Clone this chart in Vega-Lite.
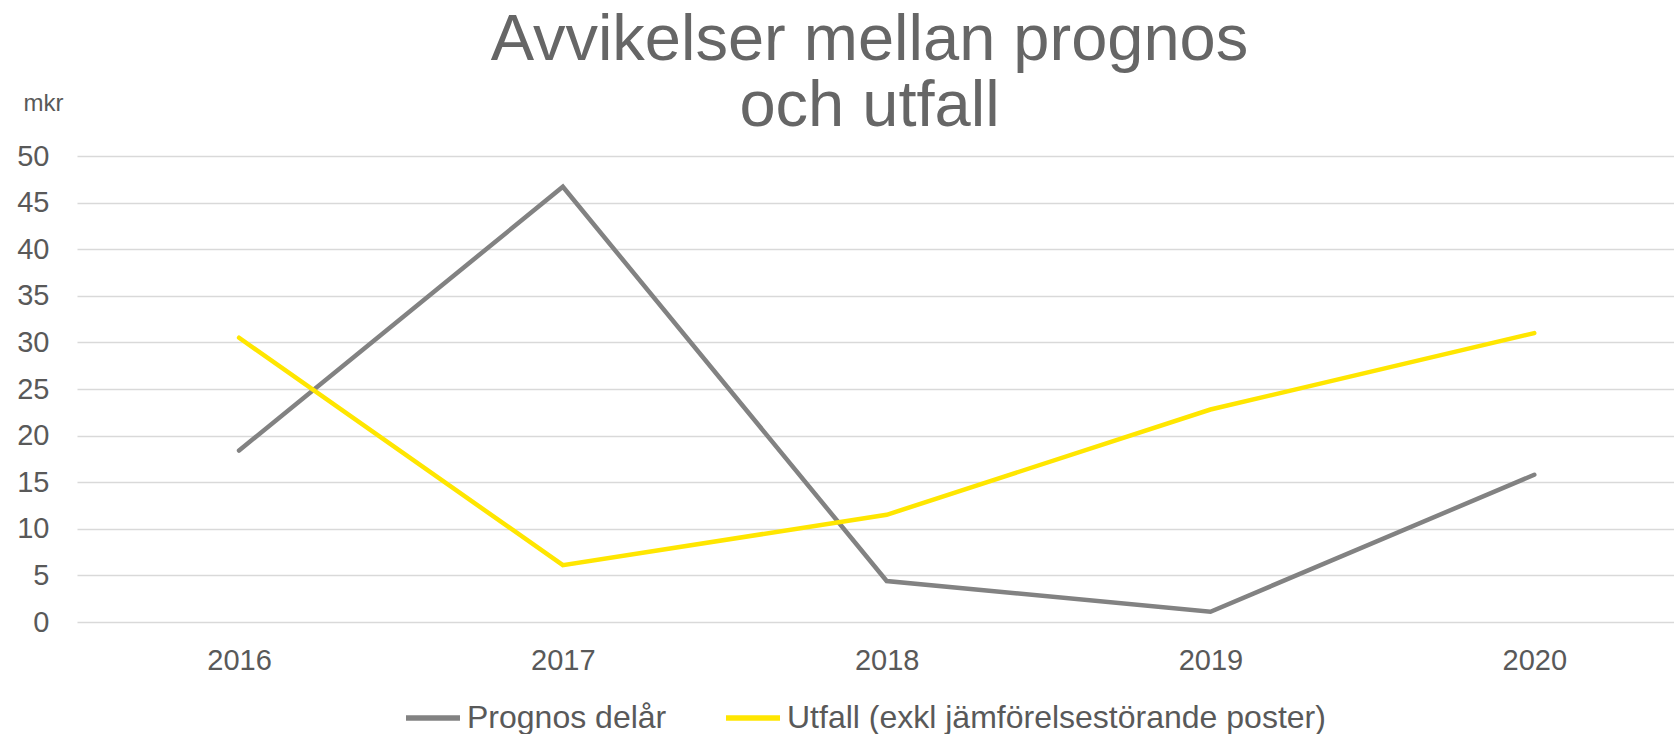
{
  "$schema": "https://vega.github.io/schema/vega-lite/v6.json",
  "width": 1597,
  "height": 466,
  "autosize": {"type": "none"},
  "padding": {"left": 77, "top": 156, "right": 0, "bottom": 112},
  "background": "white",
  "config": {
    "view": {"stroke": null},
    "font": "Liberation Sans"
  },
  "title": {
    "text": ["Avvikelser mellan prognos", "och utfall"],
    "font": "Liberation Sans",
    "fontSize": 65,
    "fontWeight": "normal",
    "color": "#666666",
    "lineHeight": 66,
    "anchor": "middle",
    "frame": "group",
    "offset": -49,
    "dx": -6
  },
  "data": {
    "values": [
      {"year": "2016", "series": "Prognos delår", "value": 18.4},
      {"year": "2017", "series": "Prognos delår", "value": 46.7},
      {"year": "2018", "series": "Prognos delår", "value": 4.4},
      {"year": "2019", "series": "Prognos delår", "value": 1.1},
      {"year": "2020", "series": "Prognos delår", "value": 15.8},
      {"year": "2016", "series": "Utfall (exkl jämförelsestörande poster)", "value": 30.5},
      {"year": "2017", "series": "Utfall (exkl jämförelsestörande poster)", "value": 6.1},
      {"year": "2018", "series": "Utfall (exkl jämförelsestörande poster)", "value": 11.5},
      {"year": "2019", "series": "Utfall (exkl jämförelsestörande poster)", "value": 22.8},
      {"year": "2020", "series": "Utfall (exkl jämförelsestörande poster)", "value": 31.0}
    ]
  },
  "mark": {"type": "line", "strokeWidth": 4.5, "strokeCap": "round", "strokeJoin": "miter"},
  "encoding": {
    "x": {
      "field": "year",
      "type": "ordinal",
      "scale": {"type": "point", "padding": 0.466, "align": 0.537},
      "axis": {
        "title": null,
        "domain": false,
        "ticks": false,
        "grid": false,
        "labelAngle": 0,
        "labelFont": "Liberation Sans",
        "labelFontSize": 29,
        "labelColor": "#595959",
        "labelPadding": 24
      }
    },
    "y": {
      "field": "value",
      "type": "quantitative",
      "scale": {"domain": [0, 50], "nice": false, "zero": true},
      "axis": {
        "values": [0, 5, 10, 15, 20, 25, 30, 35, 40, 45, 50],
        "title": "mkr",
        "titleAngle": 0,
        "titleAlign": "left",
        "titleBaseline": "alphabetic",
        "titleX": -54,
        "titleY": -46,
        "titleFont": "Liberation Sans",
        "titleFontSize": 24,
        "titleFontWeight": "normal",
        "titleColor": "#595959",
        "domain": false,
        "ticks": false,
        "grid": true,
        "gridColor": "#d9d9d9",
        "gridWidth": 1.5,
        "labelFont": "Liberation Sans",
        "labelFontSize": 29,
        "labelColor": "#595959",
        "labelPadding": 28
      }
    },
    "color": {
      "field": "series",
      "type": "nominal",
      "scale": {
        "domain": ["Prognos delår", "Utfall (exkl jämförelsestörande poster)"],
        "range": ["#828282", "#ffe600"]
      },
      "legend": {
        "title": null,
        "orient": "none",
        "direction": "horizontal",
        "legendX": 326,
        "legendY": 532,
        "padding": 0,
        "symbolType": "stroke",
        "symbolSize": 2916,
        "symbolStrokeWidth": 5.5,
        "labelFont": "Liberation Sans",
        "labelFontSize": 32,
        "labelColor": "#595959",
        "labelOffset": 4,
        "labelLimit": 1000,
        "columnPadding": 48
      }
    }
  }
}
